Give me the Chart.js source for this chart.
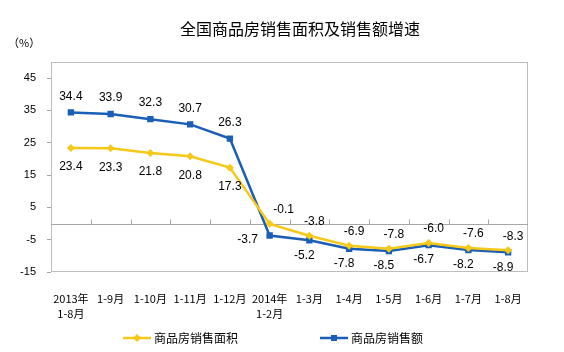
<!DOCTYPE html>
<html>
<head>
<meta charset="utf-8">
<script src="https://cdn.jsdelivr.net/npm/chart.js@4.4.1/dist/chart.umd.min.js"></script>
<style>
  body { margin: 0; background: #fff; }
  canvas { display: block; }
</style>
</head>
<body>
<canvas id="salesChart" width="564" height="352"></canvas>
<script>
// данные графика
const categories = [
  ["2013年", "1-8月"], "1-9月", "1-10月", "1-11月", "1-12月",
  ["2014年", "1-2月"], "1-3月", "1-4月", "1-5月", "1-6月", "1-7月", "1-8月"
];
const areaGrowth = [23.4, 23.3, 21.8, 20.8, 17.3, -0.1, -3.8, -6.9, -7.8, -6.0, -7.6, -8.3];
const amountGrowth = [34.4, 33.9, 32.3, 30.7, 26.3, -3.7, -5.2, -7.8, -8.5, -6.7, -8.2, -8.9];
const yTicks = [-15, -5, 5, 15, 25, 35, 45];
const seriesNames = ["商品房销售面积", "商品房销售额"];
const chartTitle = "全国商品房销售面积及销售额增速";
const unitLabel = "（%）";

const YELLOW = "#F6C817";
const BLUE = "#1A5EB5";
const CJK = "'Noto Sans CJK SC', sans-serif";
const LATIN = "'Liberation Sans', Arial, sans-serif";

// рамка, нулевая линия, заголовок
const framePlugin = {
  id: "frame",
  beforeDatasetsDraw(chart) {
    const { ctx, chartArea: a, scales } = chart;
    ctx.save();
    ctx.strokeStyle = "#BDBDBD";
    ctx.lineWidth = 1;
    ctx.strokeRect(a.left + 0.5, a.top + 0.5, a.right - a.left - 1, a.bottom - a.top - 1);
    const y0 = Math.round(scales.y.getPixelForValue(0)) + 0.5;
    ctx.strokeStyle = "#A6A6A6";
    ctx.beginPath();
    ctx.moveTo(a.left, y0);
    ctx.lineTo(a.right, y0);
    const step = (a.right - a.left) / categories.length;
    for (let k = 1; k < categories.length; k++) {
      const x = Math.round(a.left + k * step) + 0.5;
      ctx.moveTo(x, y0);
      ctx.lineTo(x, y0 - 5);
    }
    ctx.stroke();
    ctx.restore();
  },
  afterDraw(chart) {
    const { ctx } = chart;
    ctx.save();
    ctx.fillStyle = "#000";
    ctx.textAlign = "center";
    ctx.textBaseline = "middle";
    ctx.font = "16px " + CJK;
    ctx.fillText(chartTitle, 300, 29);
    ctx.font = "11px " + CJK;
    ctx.textAlign = "left";
    ctx.fillText(unitLabel, 8, 43);

    // легенда
    ctx.font = "12px " + CJK;
    const items = [
      { x: 123, color: YELLOW, style: "diamond", text: seriesNames[0] },
      { x: 320, color: BLUE, style: "square", text: seriesNames[1] },
    ];
    const ly = 338;
    items.forEach((it) => {
      ctx.strokeStyle = it.color;
      ctx.lineWidth = 2.5;
      ctx.beginPath();
      ctx.moveTo(it.x, ly);
      ctx.lineTo(it.x + 28, ly);
      ctx.stroke();
      ctx.fillStyle = it.color;
      const cx = it.x + 14;
      ctx.beginPath();
      if (it.style === "diamond") {
        ctx.moveTo(cx, ly - 4);
        ctx.lineTo(cx + 4, ly);
        ctx.lineTo(cx, ly + 4);
        ctx.lineTo(cx - 4, ly);
      } else {
        ctx.rect(cx - 3, ly - 3, 6, 6);
      }
      ctx.fill();
      ctx.fillStyle = "#000";
      ctx.fillText(it.text, it.x + 31, ly);
    });
    ctx.restore();
  },
};

// подписи значений
const labelPlugin = {
  id: "valueLabels",
  afterDatasetsDraw(chart) {
    const { ctx } = chart;
    ctx.save();
    ctx.font = "12px " + LATIN;
    ctx.fillStyle = "#000";
    ctx.textAlign = "center";
    ctx.textBaseline = "middle";
    chart.data.datasets.forEach((ds, di) => {
      const meta = chart.getDatasetMeta(di);
      meta.data.forEach((pt, i) => {
        const v = ds.data[i];
        let dx = 0;
        let dy;
        const early = i < 5;
        if (di === 0) {
          dy = early ? 19 : -14;
          if (i === 5) dx = 14;
          else if (!early) dx = 5;
        } else {
          dy = early ? -16 : 15;
          if (i === 5) { dx = -22; dy = 4; }
          else if (!early) dx = -5;
        }
        ctx.fillText(v.toFixed(1), pt.x + dx, pt.y + dy);
      });
    });
    ctx.restore();
  },
};

const ctx = document.getElementById("salesChart").getContext("2d");
new Chart(ctx, {
  type: "line",
  data: {
    labels: categories,
    datasets: [
      {
        label: seriesNames[0],
        data: areaGrowth,
        borderColor: YELLOW,
        backgroundColor: YELLOW,
        borderWidth: 2.5,
        pointStyle: "rectRot",
        pointRadius: 4,
        pointBorderWidth: 0,
        tension: 0,
      },
      {
        label: seriesNames[1],
        data: amountGrowth,
        borderColor: BLUE,
        backgroundColor: BLUE,
        borderWidth: 2.5,
        pointStyle: "rect",
        pointRadius: 4.5,
        pointBorderWidth: 0,
        tension: 0,
      },
    ],
  },
  options: {
    responsive: false,
    animation: false,
    layout: { padding: { top: 62, right: 36, left: 0, bottom: 0 } },
    plugins: {
      legend: { display: false },
      title: { display: false },
      tooltip: { enabled: false },
    },
    scales: {
      x: {
        offset: true,
        grid: { display: false },
        border: { display: false },
        ticks: {
          padding: 12,
          maxRotation: 0,
          autoSkip: false,
          color: "#000",
          font: { size: 11, family: CJK, lineHeight: 1.3 },
        },
        afterFit(scale) { scale.height = 80; },
      },
      y: {
        min: -15,
        max: 50,
        afterBuildTicks(scale) { scale.ticks = yTicks.map((v) => ({ value: v })); },
        grid: { drawOnChartArea: false, drawTicks: true, tickLength: 4, color: "#A6A6A6" },
        border: { display: false },
        ticks: {
          padding: 11,
          color: "#000",
          font: { size: 11, family: LATIN },
        },
        afterFit(scale) { scale.width = 51; },
      },
    },
  },
  plugins: [framePlugin, labelPlugin],
});
</script>
</body>
</html>
